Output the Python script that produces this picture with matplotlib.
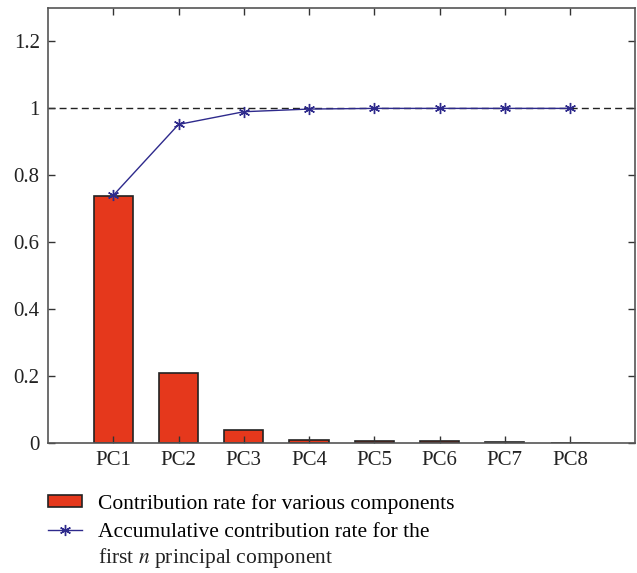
import matplotlib.pyplot as plt
import numpy as np

components = ['PC1', 'PC2', 'PC3', 'PC4', 'PC5', 'PC6', 'PC7', 'PC8']
contribution = [0.737, 0.210, 0.039, 0.010, 0.005, 0.005, 0.004, 0.000]
cumulative = [0.740, 0.952, 0.990, 0.998, 1.000, 1.000, 1.000, 1.000]

plt.rcParams['font.family'] = ['Liberation Serif', 'DejaVu Serif']
plt.rcParams['mathtext.fontset'] = 'stix'

fig = plt.figure(figsize=(6.37, 5.73), dpi=100)
ax = fig.add_axes([0.0754, 0.227, 0.922, 0.759])

x = np.arange(1, len(components) + 1)
bars = ax.bar(x, contribution, width=0.6, color='#E5381C', edgecolor='#222222',
              linewidth=1.2, label='Contribution rate for various components')
line, = ax.plot(x, cumulative, color='#2E2A8C', linewidth=1.0, marker=(6, 2, 0),
                markersize=8, markeredgewidth=1.0,
                label='Accumulative contribution rate for the')
ax.axhline(1.0, color='#222222', linestyle=(0, (5, 3)), linewidth=1.0, zorder=1)

ax.set_xlim(0, 9)
ax.set_ylim(0, 1.3)
ax.set_xticks(x)
ax.set_xticklabels(components)
ax.set_yticks([0, 0.2, 0.4, 0.6, 0.8, 1.0, 1.2])
ax.set_yticklabels(['0', '0.2', '0.4', '0.6', '0.8', '1', '1.2'])
ax.tick_params(direction='in', top=True, right=True, labelsize=15,
               length=5, width=1.0, colors='#333333', labelcolor='#222222', pad=6)
for s in ax.spines.values():
    s.set_color('#555555')
    s.set_linewidth(1.2)

leg = fig.legend(handles=[bars, line], loc='upper left',
                 bbox_to_anchor=(48 / 637, 1 - 494 / 573),
                 frameon=False, fontsize=15.5, handlelength=1.6, handleheight=0.5,
                 handletextpad=0.7, labelspacing=0.4, borderpad=0, borderaxespad=0)

# second line of the wrapped legend label, kept under the first line
fig.canvas.draw()
bb = leg.get_texts()[1].get_window_extent().transformed(fig.transFigure.inverted())
fig.text(bb.x0, bb.y0 - 4 / 573, 'first $n$ principal component', fontsize=15.5,
         ha='left', va='top', color='#222222')

fig.savefig('out.png', dpi=100)
